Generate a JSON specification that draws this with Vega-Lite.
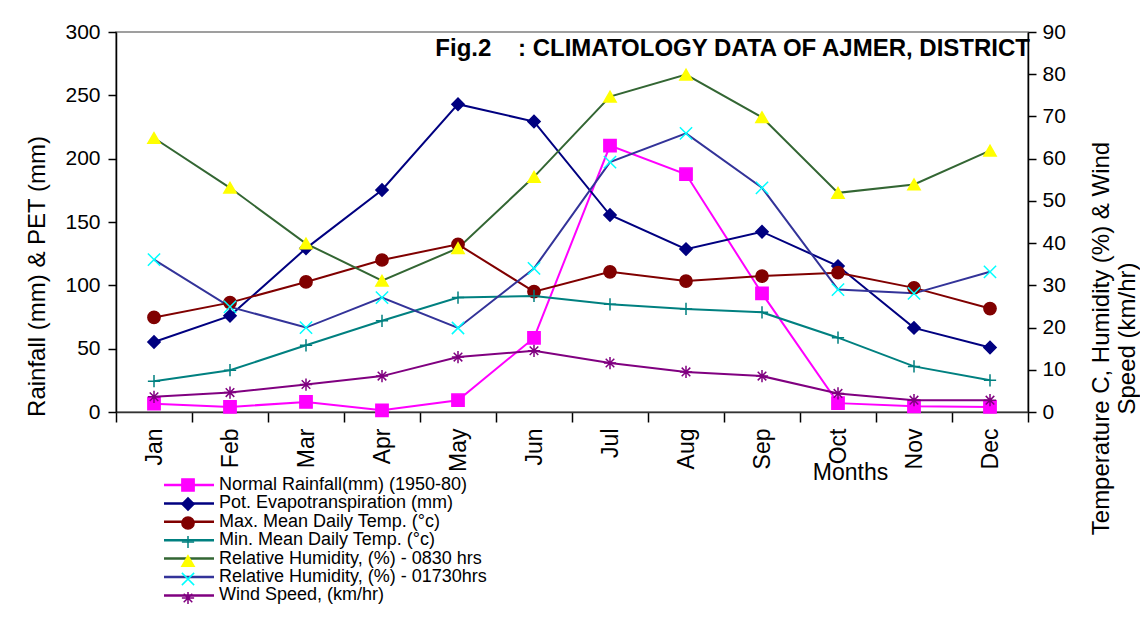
{
  "$schema": "https://vega.github.io/schema/vega-lite/v6.json",
  "width": 912,
  "height": 380,
  "autosize": {"type": "none"},
  "padding": {"left": 116, "top": 32, "right": 112, "bottom": 217},
  "background": "white",
  "config": {
    "font": "Liberation Sans",
    "view": {"stroke": "#808080", "strokeWidth": 1.5},
    "axis": {"grid": false, "labelColor": "#000", "titleColor": "#000", "tickColor": "#000", "domainColor": "#000", "domainWidth": 1.5, "tickWidth": 1.5, "titleFontWeight": "normal", "labelFont": "Liberation Sans", "titleFont": "Liberation Sans"}
  },
  "title": {
    "text": "Fig.2\u00a0\u00a0\u00a0\u00a0: CLIMATOLOGY DATA OF AJMER, DISTRICT",
    "anchor": "end",
    "frame": "group",
    "font": "Liberation Sans",
    "fontSize": 24,
    "fontWeight": "bold",
    "color": "#000",
    "baseline": "alphabetic",
    "offset": -59,
    "dx": 2
  },
  "data": {
    "values": [
      {"month": "Jan", "series": "Normal Rainfall(mm) (1950-80)", "value": 6.6},
      {"month": "Feb", "series": "Normal Rainfall(mm) (1950-80)", "value": 4.0},
      {"month": "Mar", "series": "Normal Rainfall(mm) (1950-80)", "value": 7.9},
      {"month": "Apr", "series": "Normal Rainfall(mm) (1950-80)", "value": 1.3},
      {"month": "May", "series": "Normal Rainfall(mm) (1950-80)", "value": 9.3},
      {"month": "Jun", "series": "Normal Rainfall(mm) (1950-80)", "value": 58.5},
      {"month": "Jul", "series": "Normal Rainfall(mm) (1950-80)", "value": 210.3},
      {"month": "Aug", "series": "Normal Rainfall(mm) (1950-80)", "value": 187.7},
      {"month": "Sep", "series": "Normal Rainfall(mm) (1950-80)", "value": 93.6},
      {"month": "Oct", "series": "Normal Rainfall(mm) (1950-80)", "value": 7.0},
      {"month": "Nov", "series": "Normal Rainfall(mm) (1950-80)", "value": 4.5},
      {"month": "Dec", "series": "Normal Rainfall(mm) (1950-80)", "value": 4.0},
      {"month": "Jan", "series": "Pot. Evapotranspiration (mm)", "value": 55.3},
      {"month": "Feb", "series": "Pot. Evapotranspiration (mm)", "value": 75.9},
      {"month": "Mar", "series": "Pot. Evapotranspiration (mm)", "value": 129.2},
      {"month": "Apr", "series": "Pot. Evapotranspiration (mm)", "value": 175.3},
      {"month": "May", "series": "Pot. Evapotranspiration (mm)", "value": 243.0},
      {"month": "Jun", "series": "Pot. Evapotranspiration (mm)", "value": 229.3},
      {"month": "Jul", "series": "Pot. Evapotranspiration (mm)", "value": 155.5},
      {"month": "Aug", "series": "Pot. Evapotranspiration (mm)", "value": 128.6},
      {"month": "Sep", "series": "Pot. Evapotranspiration (mm)", "value": 142.3},
      {"month": "Oct", "series": "Pot. Evapotranspiration (mm)", "value": 115.2},
      {"month": "Nov", "series": "Pot. Evapotranspiration (mm)", "value": 66.4},
      {"month": "Dec", "series": "Pot. Evapotranspiration (mm)", "value": 50.9},
      {"month": "Jan", "series": "Max. Mean Daily Temp. (°c)", "value": 22.4},
      {"month": "Feb", "series": "Max. Mean Daily Temp. (°c)", "value": 25.9},
      {"month": "Mar", "series": "Max. Mean Daily Temp. (°c)", "value": 30.8},
      {"month": "Apr", "series": "Max. Mean Daily Temp. (°c)", "value": 36.0},
      {"month": "May", "series": "Max. Mean Daily Temp. (°c)", "value": 39.7},
      {"month": "Jun", "series": "Max. Mean Daily Temp. (°c)", "value": 28.5},
      {"month": "Jul", "series": "Max. Mean Daily Temp. (°c)", "value": 33.2},
      {"month": "Aug", "series": "Max. Mean Daily Temp. (°c)", "value": 31.0},
      {"month": "Sep", "series": "Max. Mean Daily Temp. (°c)", "value": 32.2},
      {"month": "Oct", "series": "Max. Mean Daily Temp. (°c)", "value": 33.0},
      {"month": "Nov", "series": "Max. Mean Daily Temp. (°c)", "value": 29.4},
      {"month": "Dec", "series": "Max. Mean Daily Temp. (°c)", "value": 24.5},
      {"month": "Jan", "series": "Min. Mean Daily Temp. (°c)", "value": 7.3},
      {"month": "Feb", "series": "Min. Mean Daily Temp. (°c)", "value": 9.9},
      {"month": "Mar", "series": "Min. Mean Daily Temp. (°c)", "value": 15.8},
      {"month": "Apr", "series": "Min. Mean Daily Temp. (°c)", "value": 21.6},
      {"month": "May", "series": "Min. Mean Daily Temp. (°c)", "value": 27.1},
      {"month": "Jun", "series": "Min. Mean Daily Temp. (°c)", "value": 27.5},
      {"month": "Jul", "series": "Min. Mean Daily Temp. (°c)", "value": 25.5},
      {"month": "Aug", "series": "Min. Mean Daily Temp. (°c)", "value": 24.4},
      {"month": "Sep", "series": "Min. Mean Daily Temp. (°c)", "value": 23.6},
      {"month": "Oct", "series": "Min. Mean Daily Temp. (°c)", "value": 17.6},
      {"month": "Nov", "series": "Min. Mean Daily Temp. (°c)", "value": 10.8},
      {"month": "Dec", "series": "Min. Mean Daily Temp. (°c)", "value": 7.5},
      {"month": "Jan", "series": "Relative Humidity, (%) - 0830 hrs", "value": 64.9},
      {"month": "Feb", "series": "Relative Humidity, (%) - 0830 hrs", "value": 53.1},
      {"month": "Mar", "series": "Relative Humidity, (%) - 0830 hrs", "value": 39.9},
      {"month": "Apr", "series": "Relative Humidity, (%) - 0830 hrs", "value": 31.1},
      {"month": "May", "series": "Relative Humidity, (%) - 0830 hrs", "value": 38.8},
      {"month": "Jun", "series": "Relative Humidity, (%) - 0830 hrs", "value": 55.7},
      {"month": "Jul", "series": "Relative Humidity, (%) - 0830 hrs", "value": 74.7},
      {"month": "Aug", "series": "Relative Humidity, (%) - 0830 hrs", "value": 79.9},
      {"month": "Sep", "series": "Relative Humidity, (%) - 0830 hrs", "value": 69.8},
      {"month": "Oct", "series": "Relative Humidity, (%) - 0830 hrs", "value": 51.9},
      {"month": "Nov", "series": "Relative Humidity, (%) - 0830 hrs", "value": 53.9},
      {"month": "Dec", "series": "Relative Humidity, (%) - 0830 hrs", "value": 61.9},
      {"month": "Jan", "series": "Relative Humidity, (%) - 01730hrs", "value": 36.1},
      {"month": "Feb", "series": "Relative Humidity, (%) - 01730hrs", "value": 24.9},
      {"month": "Mar", "series": "Relative Humidity, (%) - 01730hrs", "value": 20.0},
      {"month": "Apr", "series": "Relative Humidity, (%) - 01730hrs", "value": 27.1},
      {"month": "May", "series": "Relative Humidity, (%) - 01730hrs", "value": 19.9},
      {"month": "Jun", "series": "Relative Humidity, (%) - 01730hrs", "value": 34.0},
      {"month": "Jul", "series": "Relative Humidity, (%) - 01730hrs", "value": 59.2},
      {"month": "Aug", "series": "Relative Humidity, (%) - 01730hrs", "value": 66.0},
      {"month": "Sep", "series": "Relative Humidity, (%) - 01730hrs", "value": 53.1},
      {"month": "Oct", "series": "Relative Humidity, (%) - 01730hrs", "value": 29.0},
      {"month": "Nov", "series": "Relative Humidity, (%) - 01730hrs", "value": 28.1},
      {"month": "Dec", "series": "Relative Humidity, (%) - 01730hrs", "value": 33.2},
      {"month": "Jan", "series": "Wind Speed, (km/hr)", "value": 3.6},
      {"month": "Feb", "series": "Wind Speed, (km/hr)", "value": 4.6},
      {"month": "Mar", "series": "Wind Speed, (km/hr)", "value": 6.5},
      {"month": "Apr", "series": "Wind Speed, (km/hr)", "value": 8.5},
      {"month": "May", "series": "Wind Speed, (km/hr)", "value": 13.0},
      {"month": "Jun", "series": "Wind Speed, (km/hr)", "value": 14.5},
      {"month": "Jul", "series": "Wind Speed, (km/hr)", "value": 11.6},
      {"month": "Aug", "series": "Wind Speed, (km/hr)", "value": 9.5},
      {"month": "Sep", "series": "Wind Speed, (km/hr)", "value": 8.5},
      {"month": "Oct", "series": "Wind Speed, (km/hr)", "value": 4.4},
      {"month": "Nov", "series": "Wind Speed, (km/hr)", "value": 2.8},
      {"month": "Dec", "series": "Wind Speed, (km/hr)", "value": 2.8}
    ]
  },
  "encoding": {
    "x": {
      "field": "month",
      "type": "ordinal",
      "sort": ["Jan", "Feb", "Mar", "Apr", "May", "Jun", "Jul", "Aug", "Sep", "Oct", "Nov", "Dec"],
      "scale": {"type": "band", "paddingInner": 0, "paddingOuter": 0},
      "axis": {
        "title": "Months",
        "titleFontSize": 23,
        "titleX": 734,
        "titleY": 60,
        "titleAlign": "center",
        "titleBaseline": "middle",
        "titleAngle": 0,
        "labelAngle": 270,
        "labelAlign": "right",
        "labelBaseline": "middle",
        "labelFontSize": 23,
        "labelPadding": 6,
        "tickSize": 10,
        "tickBand": "extent",
        "domainColor": "#333333"
      }
    }
  },
  "layer": [
    {
      "transform": [{"filter": {"field": "series", "oneOf": ["Normal Rainfall(mm) (1950-80)", "Pot. Evapotranspiration (mm)"]}}],
      "encoding": {
        "y": {
          "field": "value",
          "type": "quantitative",
          "scale": {"domain": [0, 300], "nice": false},
          "axis": {
            "orient": "left",
            "values": [0, 50, 100, 150, 200, 250, 300],
            "title": "Rainfall (mm) & PET (mm)",
            "titleFontSize": 24,
            "titleAngle": 270,
            "titleX": -79,
            "titleY": 244,
            "titleAlign": "center",
            "titleBaseline": "middle",
            "labelFontSize": 21,
            "tickSize": 8,
            "labelPadding": 8
          }
        }
      },
      "layer": [
        {
          "mark": {"type": "line", "strokeWidth": 2},
          "encoding": {
            "color": {
              "field": "series",
              "type": "nominal",
              "scale": {
                "domain": ["Normal Rainfall(mm) (1950-80)", "Pot. Evapotranspiration (mm)", "Max. Mean Daily Temp. (°c)", "Min. Mean Daily Temp. (°c)", "Relative Humidity, (%) - 0830 hrs", "Relative Humidity, (%) - 01730hrs", "Wind Speed, (km/hr)"],
                "range": ["#FF00FF", "#000080", "#800000", "#008080", "#336633", "#333399", "#800080"]
              },
              "legend": {"orient": "none", "legendX": 64, "legendY": 444, "title": null, "symbolType": "M-5,0L5,0", "symbolSize": 100, "symbolStrokeWidth": 2.5, "labelFontSize": 18, "labelFont": "Liberation Sans", "labelColor": "#000", "labelOffset": 21, "labelLimit": 500, "rowPadding": 0.4, "padding": 0}
            }
          }
        },
        {
          "mark": {"type": "point", "filled": true, "size": 150, "strokeWidth": 1.5, "opacity": 1},
          "encoding": {
            "shape": {
              "field": "series",
              "type": "nominal",
              "scale": {
                "domain": ["Wind Speed, (km/hr)", "Normal Rainfall(mm) (1950-80)", "Pot. Evapotranspiration (mm)", "Max. Mean Daily Temp. (°c)", "Min. Mean Daily Temp. (°c)", "Relative Humidity, (%) - 0830 hrs", "Relative Humidity, (%) - 01730hrs"],
                "range": ["M-1,0L1,0M0,-1L0,1M-0.7,-0.7L0.7,0.7M-0.7,0.7L0.7,-0.7", "square", "diamond", "circle", "M-1,0L1,0M0,-1L0,1", "triangle-up", "M-1,-1L1,1M-1,1L1,-1"]
              },
              "legend": {"orient": "none", "legendX": 63, "legendY": 444, "title": null, "symbolSize": 150, "symbolStrokeWidth": 1.5, "labelFontSize": 18, "labelExpr": "''", "rowPadding": -2.1, "padding": 0, "values": ["Normal Rainfall(mm) (1950-80)", "Pot. Evapotranspiration (mm)", "Max. Mean Daily Temp. (°c)", "Min. Mean Daily Temp. (°c)", "Relative Humidity, (%) - 0830 hrs", "Relative Humidity, (%) - 01730hrs", "Wind Speed, (km/hr)"]}
            },
            "fill": {
              "field": "series",
              "type": "nominal",
              "scale": {
                "domain": ["Wind Speed, (km/hr)", "Normal Rainfall(mm) (1950-80)", "Pot. Evapotranspiration (mm)", "Max. Mean Daily Temp. (°c)", "Min. Mean Daily Temp. (°c)", "Relative Humidity, (%) - 0830 hrs", "Relative Humidity, (%) - 01730hrs"],
                "range": ["#800080", "#FF00FF", "#000080", "#800000", "#008080", "#FFFF00", "#00FFFF"]
              },
              "legend": {"orient": "none", "legendX": 63, "legendY": 444, "title": null, "symbolSize": 150, "symbolStrokeWidth": 1.5, "labelFontSize": 18, "labelExpr": "''", "rowPadding": -2.1, "padding": 0, "values": ["Normal Rainfall(mm) (1950-80)", "Pot. Evapotranspiration (mm)", "Max. Mean Daily Temp. (°c)", "Min. Mean Daily Temp. (°c)", "Relative Humidity, (%) - 0830 hrs", "Relative Humidity, (%) - 01730hrs", "Wind Speed, (km/hr)"]}
            },
            "stroke": {
              "field": "series",
              "type": "nominal",
              "scale": {
                "domain": ["Wind Speed, (km/hr)", "Normal Rainfall(mm) (1950-80)", "Pot. Evapotranspiration (mm)", "Max. Mean Daily Temp. (°c)", "Min. Mean Daily Temp. (°c)", "Relative Humidity, (%) - 0830 hrs", "Relative Humidity, (%) - 01730hrs"],
                "range": ["#800080", "#FF00FF", "#000080", "#800000", "#008080", "#FFFF00", "#00FFFF"]
              },
              "legend": {"orient": "none", "legendX": 63, "legendY": 444, "title": null, "symbolSize": 150, "symbolStrokeWidth": 1.5, "labelFontSize": 18, "labelExpr": "''", "rowPadding": -2.1, "padding": 0, "values": ["Normal Rainfall(mm) (1950-80)", "Pot. Evapotranspiration (mm)", "Max. Mean Daily Temp. (°c)", "Min. Mean Daily Temp. (°c)", "Relative Humidity, (%) - 0830 hrs", "Relative Humidity, (%) - 01730hrs", "Wind Speed, (km/hr)"]}
            }
          }
        }
      ]
    },
    {
      "transform": [{"filter": {"field": "series", "oneOf": ["Max. Mean Daily Temp. (°c)", "Min. Mean Daily Temp. (°c)", "Relative Humidity, (%) - 0830 hrs", "Relative Humidity, (%) - 01730hrs", "Wind Speed, (km/hr)"]}}],
      "encoding": {
        "y": {
          "field": "value",
          "type": "quantitative",
          "scale": {"domain": [0, 90], "nice": false},
          "axis": {
            "orient": "right",
            "values": [0, 10, 20, 30, 40, 50, 60, 70, 80, 90],
            "title": ["Temperature C, Humidity (%) & Wind", "Speed (km/hr)"],
            "titleFontSize": 24,
            "titleAngle": 270,
            "titleX": 73,
            "titleY": 306,
            "titleAlign": "center",
            "titleBaseline": "middle",
            "titleLineHeight": 26,
            "labelFontSize": 21,
            "tickSize": 8,
            "labelPadding": 6
          }
        }
      },
      "layer": [
        {
          "mark": {"type": "line", "strokeWidth": 2},
          "encoding": {
            "color": {
              "field": "series",
              "type": "nominal",
              "scale": {
                "domain": ["Normal Rainfall(mm) (1950-80)", "Pot. Evapotranspiration (mm)", "Max. Mean Daily Temp. (°c)", "Min. Mean Daily Temp. (°c)", "Relative Humidity, (%) - 0830 hrs", "Relative Humidity, (%) - 01730hrs", "Wind Speed, (km/hr)"],
                "range": ["#FF00FF", "#000080", "#800000", "#008080", "#336633", "#333399", "#800080"]
              },
              "legend": {"orient": "none", "legendX": 64, "legendY": 444, "title": null, "symbolType": "M-5,0L5,0", "symbolSize": 100, "symbolStrokeWidth": 2.5, "labelFontSize": 18, "labelFont": "Liberation Sans", "labelColor": "#000", "labelOffset": 21, "labelLimit": 500, "rowPadding": 0.4, "padding": 0}
            }
          }
        },
        {
          "mark": {"type": "point", "filled": true, "size": 150, "strokeWidth": 1.5, "opacity": 1},
          "encoding": {
            "shape": {
              "field": "series",
              "type": "nominal",
              "scale": {
                "domain": ["Wind Speed, (km/hr)", "Normal Rainfall(mm) (1950-80)", "Pot. Evapotranspiration (mm)", "Max. Mean Daily Temp. (°c)", "Min. Mean Daily Temp. (°c)", "Relative Humidity, (%) - 0830 hrs", "Relative Humidity, (%) - 01730hrs"],
                "range": ["M-1,0L1,0M0,-1L0,1M-0.7,-0.7L0.7,0.7M-0.7,0.7L0.7,-0.7", "square", "diamond", "circle", "M-1,0L1,0M0,-1L0,1", "triangle-up", "M-1,-1L1,1M-1,1L1,-1"]
              },
              "legend": {"orient": "none", "legendX": 63, "legendY": 444, "title": null, "symbolSize": 150, "symbolStrokeWidth": 1.5, "labelFontSize": 18, "labelExpr": "''", "rowPadding": -2.1, "padding": 0, "values": ["Normal Rainfall(mm) (1950-80)", "Pot. Evapotranspiration (mm)", "Max. Mean Daily Temp. (°c)", "Min. Mean Daily Temp. (°c)", "Relative Humidity, (%) - 0830 hrs", "Relative Humidity, (%) - 01730hrs", "Wind Speed, (km/hr)"]}
            },
            "fill": {
              "field": "series",
              "type": "nominal",
              "scale": {
                "domain": ["Wind Speed, (km/hr)", "Normal Rainfall(mm) (1950-80)", "Pot. Evapotranspiration (mm)", "Max. Mean Daily Temp. (°c)", "Min. Mean Daily Temp. (°c)", "Relative Humidity, (%) - 0830 hrs", "Relative Humidity, (%) - 01730hrs"],
                "range": ["#800080", "#FF00FF", "#000080", "#800000", "#008080", "#FFFF00", "#00FFFF"]
              },
              "legend": {"orient": "none", "legendX": 63, "legendY": 444, "title": null, "symbolSize": 150, "symbolStrokeWidth": 1.5, "labelFontSize": 18, "labelExpr": "''", "rowPadding": -2.1, "padding": 0, "values": ["Normal Rainfall(mm) (1950-80)", "Pot. Evapotranspiration (mm)", "Max. Mean Daily Temp. (°c)", "Min. Mean Daily Temp. (°c)", "Relative Humidity, (%) - 0830 hrs", "Relative Humidity, (%) - 01730hrs", "Wind Speed, (km/hr)"]}
            },
            "stroke": {
              "field": "series",
              "type": "nominal",
              "scale": {
                "domain": ["Wind Speed, (km/hr)", "Normal Rainfall(mm) (1950-80)", "Pot. Evapotranspiration (mm)", "Max. Mean Daily Temp. (°c)", "Min. Mean Daily Temp. (°c)", "Relative Humidity, (%) - 0830 hrs", "Relative Humidity, (%) - 01730hrs"],
                "range": ["#800080", "#FF00FF", "#000080", "#800000", "#008080", "#FFFF00", "#00FFFF"]
              },
              "legend": {"orient": "none", "legendX": 63, "legendY": 444, "title": null, "symbolSize": 150, "symbolStrokeWidth": 1.5, "labelFontSize": 18, "labelExpr": "''", "rowPadding": -2.1, "padding": 0, "values": ["Normal Rainfall(mm) (1950-80)", "Pot. Evapotranspiration (mm)", "Max. Mean Daily Temp. (°c)", "Min. Mean Daily Temp. (°c)", "Relative Humidity, (%) - 0830 hrs", "Relative Humidity, (%) - 01730hrs", "Wind Speed, (km/hr)"]}
            }
          }
        }
      ]
    }
  ],
  "resolve": {"scale": {"y": "independent"}}
}
